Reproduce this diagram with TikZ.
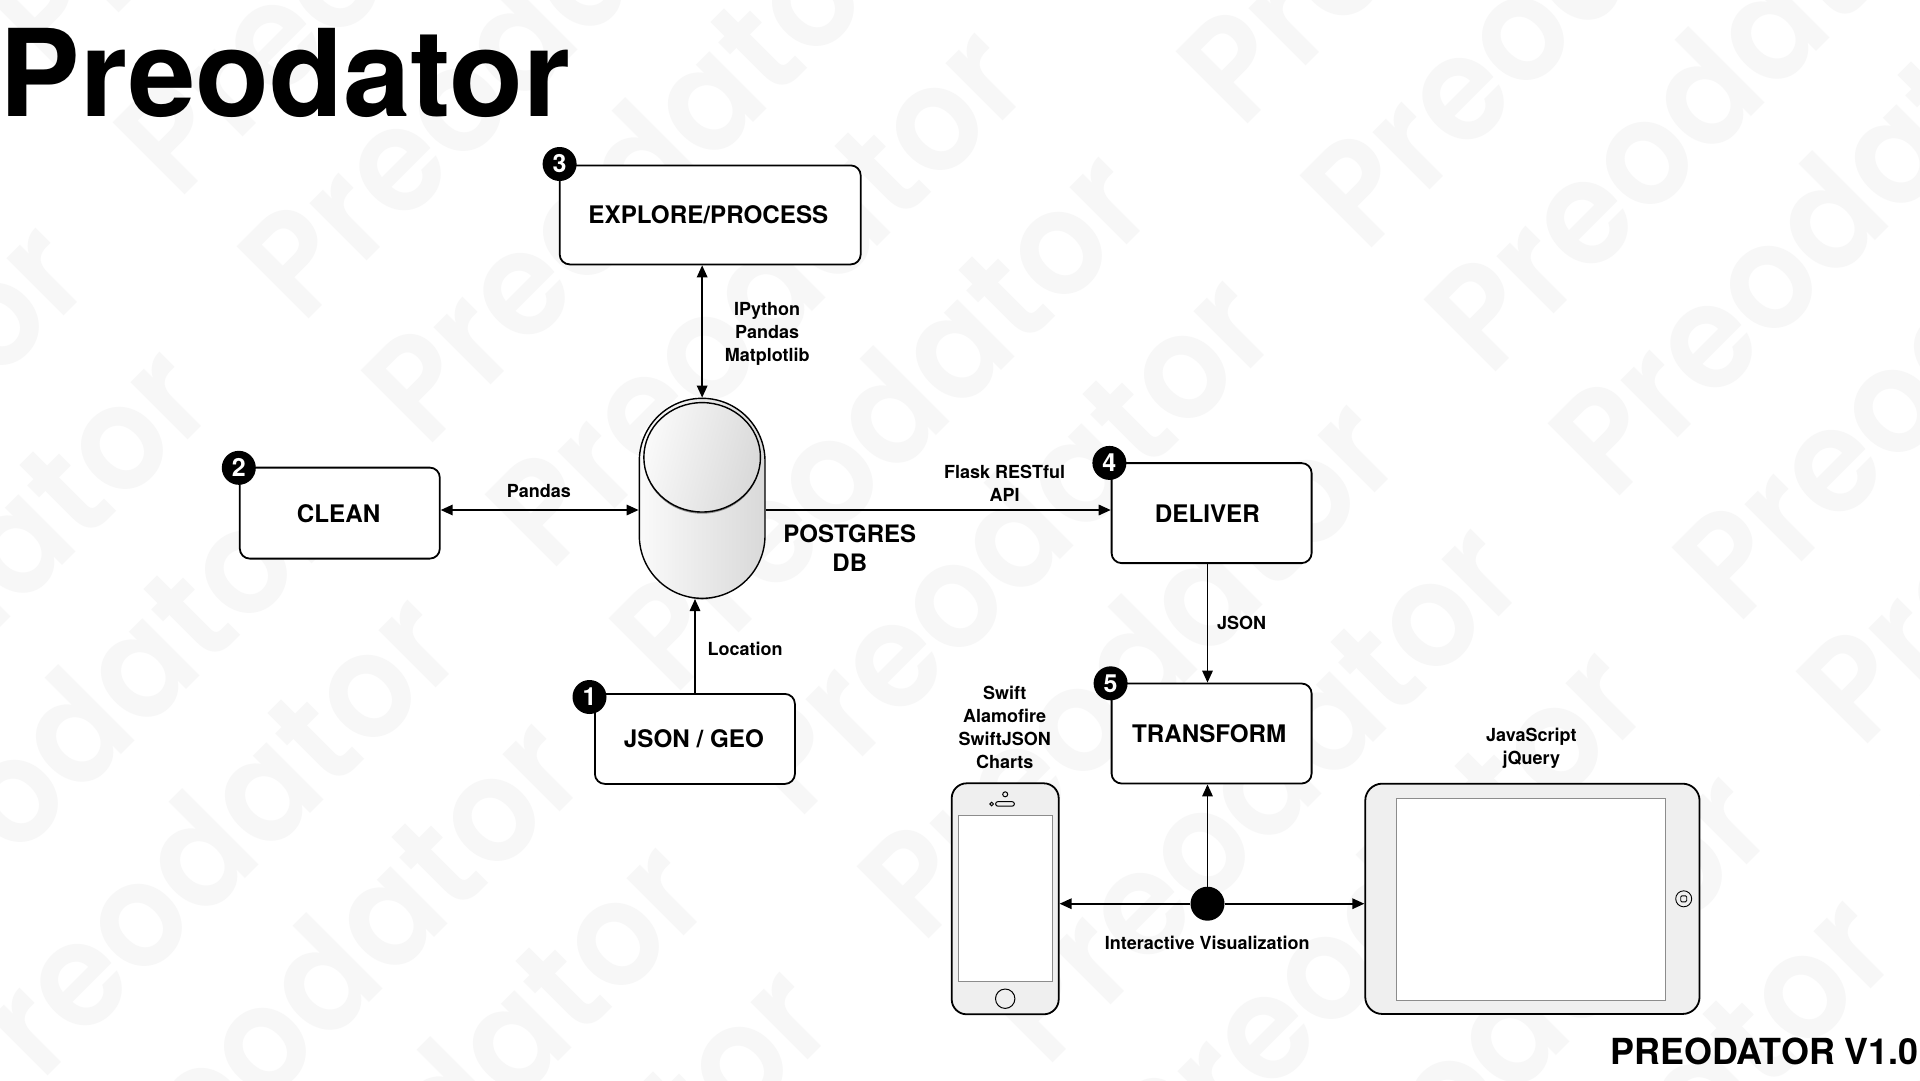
\documentclass[tikz,border=0pt]{standalone}
\usepackage{fontspec}
\setmainfont{TeX Gyre Heros}
\newfontfamily\wmfont[FakeStretch=0.93]{Poppins SemiBold}
\usetikzlibrary{arrows.meta,shadings,shapes.geometric}
\definecolor{wm}{HTML}{F7F7F7}
\definecolor{bez}{HTML}{EFEFEF}
\tikzset{
 boxn/.style={draw=black,line width=1.8pt,rounded corners=10pt,fill=white,inner sep=0pt,font=\fontsize{24.2}{30}\selectfont\bfseries,text height=18pt,text depth=0pt},
 badge/.style={circle,fill=black,text=white,minimum size=34pt,inner sep=0pt,font=\fontsize{25}{28}\selectfont\bfseries},
 lbl/.style={align=center,inner sep=0pt,font=\fontsize{18}{23}\selectfont\bfseries},
 big/.style={align=center,inner sep=0pt,font=\fontsize{24}{29}\selectfont\bfseries},
 link/.style={line width=1.6pt,-{Triangle[length=12pt,width=10.5pt]}},
 blink/.style={line width=1.6pt,{Triangle[length=12pt,width=10.5pt]}-{Triangle[length=12pt,width=10.5pt]}},
 wmark/.style={text=wm,rotate=45,anchor=base west,inner sep=0pt,font=\wmfont\fontsize{146}{146}\selectfont},
 device/.style={draw=black,line width=1.8pt,fill=bez,inner sep=0pt},
 screen/.style={draw=black!45,line width=1pt,fill=white,inner sep=0pt},
}
\begin{document}
\begin{tikzpicture}[x=1pt,y=-1pt]
\useasboundingbox (0,0) rectangle (1920,1080);
\fill[white] (0,0) rectangle (1920,1080);
% watermark lattice
\begin{scope}
\clip (0,0) rectangle (1920,1080);
\foreach \i in {-2,...,2}{
 \foreach \j in {-8,...,12}{
  \node[wmark] (wm\i x\j) at ({1241+124*\j+567*\i},{131+124*\j-567*\i}) {Preodator};
 }
}
\end{scope}
% title
\node[anchor=base west,inner sep=0pt,font=\fontsize{121}{121}\selectfont\bfseries] (title) at (-0.5,116.5) {Preodator};
\node[anchor=base east,inner sep=0pt,font=\fontsize{35.9}{40}\selectfont\bfseries] (version) at (1919,1064.5) {PREODATOR V1.0};
% boxes
\node[boxn,minimum width=301pt,minimum height=99pt] (explore) at (710.2,214.9) {EXPLORE/PROCESS\hspace*{3.6pt}};
\node[boxn,minimum width=200pt,minimum height=91pt] (clean) at (339.8,513.1) {CLEAN\hspace*{2.4pt}};
\node[boxn,minimum width=200pt,minimum height=90pt] (json) at (694.9,738.9) {JSON / GEO\hspace*{2pt}};
\node[boxn,minimum width=200pt,minimum height=100pt] (deliver) at (1211.6,513.1) {DELIVER\hspace*{8.4pt}};
\node[boxn,minimum width=200pt,minimum height=100pt] (transform) at (1211.6,733.5) {TRANSFORM\hspace*{4.8pt}};
% database
\fill[black!30] (702.15,499.8) ellipse[x radius=62.8pt,y radius=100pt];
\node[draw=black,line width=1.4pt,rounded corners=62.8pt,minimum width=125.7pt,minimum height=200pt,inner sep=0pt,left color=black!2,right color=black!15] (db) at (702.15,498.3) {};
\fill[black!45] (702.15,459) ellipse[x radius=58.3pt,y radius=54.7pt];
\node[ellipse,draw=black,line width=1.4pt,minimum width=116.6pt,minimum height=109.4pt,inner sep=0pt,left color=black!2,right color=black!15,shading angle=75] (dbtop) at (702.15,457.3) {};
\node[big] (dblabel) at (849.8,548) {POSTGRES\\DB};
% phone
\node[device,rounded corners=15pt,minimum width=107pt,minimum height=231pt] (phone) at (1005.2,898.8) {};
\node[screen,minimum width=93.7pt,minimum height=165.7pt] (phonescreen) at (1005.2,898.2) {};
\node[circle,draw=black,line width=1pt,minimum size=19.4pt,inner sep=0pt] (phonehome) at (1005.2,998.7) {};
\node[circle,draw=black,line width=1pt,minimum size=5pt,inner sep=0pt] (phonecam) at (1005.2,794.3) {};
\node[circle,draw=black,line width=1pt,minimum size=3.6pt,inner sep=0pt] (phonedot) at (991.7,804) {};
\node[draw=black,line width=1pt,rounded corners=2pt,minimum width=18.6pt,minimum height=4.4pt,inner sep=0pt] (phonespk) at (1005,803.9) {};
% tablet
\node[device,rounded corners=17pt,minimum width=334.3pt,minimum height=230.3pt] (tablet) at (1532.4,898.8) {};
\node[screen,minimum width=269.3pt,minimum height=202pt] (tabscreen) at (1531,899.4) {};
\node[circle,draw=black,line width=.9pt,minimum size=16pt,inner sep=0pt] (tabhome) at (1683.7,898.8) {};
\node[draw=black,line width=.9pt,rounded corners=1.2pt,minimum size=6pt,inner sep=0pt] (tabsq) at (1683.7,898.8) {};
% hub
\node[circle,fill=black,minimum size=34pt,inner sep=0pt] (hub) at (1207.5,903.7) {};
% row coordinates
\coordinate (rowa) at (0,510);
\coordinate (colj) at (695,0);
% connectors
\draw[blink] (explore.south -| db.north) -- (db.north);
\draw[blink] (clean.east |- rowa) -- (db.west |- rowa);
\draw[link] (db.east |- rowa) -- (deliver.west |- rowa);
\draw[link] (json.north -| colj) -- (db.south -| colj);
\draw[link] (deliver.south -| hub.north) -- (transform.north -| hub.north);
\draw[link] (hub.north) -- (transform.south -| hub.north);
\draw[link] (hub.west) -- (phone.east |- hub.west);
\draw[link] (hub.east) -- (tablet.west |- hub.east);
% badges
\node[badge] (b3) at (559.6,164) {3};
\node[badge] (b2) at (238.8,467.8) {2};
\node[badge] (b1) at (589.5,697) {1};
\node[badge] (b4) at (1109.4,462.9) {4};
\node[badge] (b5) at (1110.6,683.3) {5};
% labels
\node[lbl] (l1) at (767.2,334) {IPython\\Pandas\\Matplotlib};
\node[lbl] (l2) at (538.8,491.5) {Pandas};
\node[lbl] (l3) at (1004.6,483.5) {Flask RESTful\\API};
\node[lbl] (l4) at (745,648.5) {Location};
\node[lbl] (l5) at (1241.6,622.5) {JSON};
\node[lbl] (l6) at (1004.7,727.5) {Swift\\Alamofire\\SwiftJSON\\Charts};
\node[lbl] (l7) at (1531.3,748.5) {JavaScript\\jQuery};
\node[lbl] (l8) at (1207.3,942.5) {Interactive Visualization};
\end{tikzpicture}
\end{document}
